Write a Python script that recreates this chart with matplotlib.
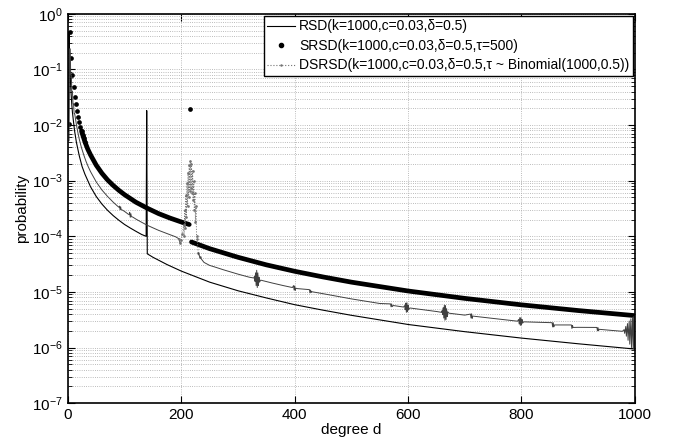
import numpy as np
import matplotlib.pyplot as plt
from matplotlib.lines import Line2D
from matplotlib.ticker import LogLocator, NullFormatter

plt.rcParams['font.family'] = ['Liberation Sans', 'DejaVu Sans']

# RSD(k=1000) - thin line
rsd_deg = [1, 2, 3, 4, 5, 6, 7, 8, 10, 12, 15, 20, 25, 30, 40, 50, 60, 70, 80, 90,
           100, 110, 120, 130, 138, 139, 140, 150, 175, 200, 250, 300, 350, 400,
           450, 500, 600, 700, 800, 900, 1000]
rsd_val = [7.7e-3, 0.47, 0.16, 0.080, 0.048, 0.032, 0.0225, 0.017, 0.0112, 7.6e-3,
           4.9e-3, 2.82e-3, 1.8e-3, 1.31e-3, 7.75e-4, 5.2e-4, 3.8e-4, 2.93e-4,
           2.35e-4, 1.94e-4, 1.63e-4, 1.41e-4, 1.23e-4, 1.08e-4, 1.0e-4, 1.82e-2,
           4.85e-5, 4.2e-5, 3.1e-5, 2.37e-5, 1.5e-5, 1.05e-5, 7.8e-6, 5.9e-6,
           4.7e-6, 3.8e-6, 2.6e-6, 1.93e-6, 1.48e-6, 1.17e-6, 9.4e-7]

# SRSD(tau=500) - big dots, merging into a thick band
srsd_deg = [2, 4, 6, 8, 10, 12, 14, 16, 18, 20, 22, 24, 26, 28, 30, 35, 40, 50, 60,
            70, 80, 90, 100, 120, 140, 160, 180, 200, 214, 216, 218, 250, 300, 350,
            400, 450, 500, 600, 700, 800, 900, 1000]
srsd_val = [0.0105, 0.47, 0.159, 0.080, 0.0485, 0.0326, 0.0235, 0.0178, 0.0140,
            0.0113, 0.0093, 0.0078, 0.0067, 0.0058, 0.0050, 0.0037, 0.0029, 0.0019,
            0.00136, 0.00103, 0.00082, 0.00067, 0.00056, 0.00041, 0.00032, 0.000256,
            0.000213, 0.000181, 0.000163, 0.0194, 7.9e-5, 6.0e-5, 4.2e-5, 3.07e-5,
            2.35e-5, 1.86e-5, 1.50e-5, 1.04e-5, 7.66e-6, 5.86e-6, 4.63e-6, 3.75e-6]

# DSRSD(tau ~ Binomial(1000,0.5)) - small grey dots
dsrsd_deg = [1, 2, 3, 4, 5, 6, 7, 8, 9, 10, 11, 12, 14, 16, 18, 20, 24, 28, 32, 36,
             40, 50, 60, 70, 80, 88, 90, 91, 92, 93, 94, 96, 100, 106, 108, 109, 110,
             111, 112, 114, 120, 130, 140, 150, 160, 170, 180, 190, 196,
             198, 200, 202, 204, 205, 206, 207, 208, 209, 210, 211, 212, 213, 214,
             215, 216, 217, 218, 219, 220, 221, 222, 223, 224, 225, 226, 227, 228,
             230, 233, 240, 250, 260, 275, 300, 320, 328, 329, 330, 331, 332, 333, 334,
             335, 336, 337, 338, 340, 360, 380, 396, 398, 399, 400, 401, 402, 404,
             426, 427, 428, 429, 430, 450, 500, 550, 569, 570, 571, 572, 574, 592,
             594, 595, 596, 597, 598, 599, 600, 601, 603, 650, 659, 660, 661, 662,
             663, 664, 665, 666, 667, 668, 669, 670, 672, 700, 710, 711, 712, 713,
             714, 750, 793, 795, 796, 797, 798, 799, 800, 801, 802, 804, 854, 855,
             856, 857, 858, 888, 889, 890, 891, 900, 933, 934, 935, 936, 937, 960,
             978, 981, 982, 984, 985, 987, 988, 990, 991, 993, 994, 996, 997, 998,
             999, 1000]
dsrsd_val = [0.0052, 0.0052, 0.235, 0.235, 0.079, 0.079, 0.040, 0.040, 0.024, 0.024,
             0.016, 0.016, 0.0118, 0.0089, 0.0070, 0.0056, 0.0039, 0.0029, 0.00222,
             0.00177, 0.00145, 0.00095, 0.00068, 0.00052, 0.00041, 0.000346,
             0.000333, 0.00035, 0.00030, 0.00034, 0.00030, 0.000297, 0.00028,
             0.000252, 0.000245, 0.00027, 0.00022, 0.000255, 0.000225, 0.000223,
             0.000204, 0.000179, 0.000158, 0.000142, 0.000128, 0.000117, 0.000107,
             9.8e-5, 9.0e-5,
             7.5e-5, 8.5e-5, 1.1e-4, 1.6e-4, 1.0e-4, 3.0e-4, 1.4e-4, 5.5e-4, 2.2e-4,
             9.0e-4, 3.5e-4, 1.4e-3, 5.0e-4, 1.9e-3, 6.5e-4, 2.3e-3, 7.5e-4, 2.0e-3,
             6.0e-4, 1.5e-3, 4.5e-4, 1.0e-3, 3.0e-4, 6.0e-4, 1.8e-4, 3.5e-4, 1.0e-4,
             9.0e-5, 5.0e-5, 4.2e-5, 3.4e-5, 3.0e-5, 2.79e-5, 2.49e-5, 2.09e-5, 1.84e-5,
             1.78e-5,
             1.9e-5, 1.55e-5, 2.2e-5, 1.3e-5, 2.45e-5, 1.2e-5, 2.2e-5, 1.3e-5,
             1.85e-5, 1.5e-5, 1.63e-5, 1.45e-5, 1.30e-5, 1.2e-5, 1.3e-5, 1.08e-5,
             1.28e-5, 1.07e-5, 1.17e-5, 1.15e-5, 1.1e-5, 0.96e-5, 1.08e-5, 0.98e-5,
             1.01e-5, 9.3e-6, 7.5e-6, 6.2e-6, 6.1e-6, 5.4e-6, 6.1e-6, 5.45e-6, 5.7e-6,
             5.35e-6, 5.7e-6, 4.8e-6, 6.3e-6, 4.3e-6, 6.4e-6, 4.4e-6, 5.8e-6, 4.8e-6,
             5.15e-6, 4.45e-6, 4.3e-6, 4.6e-6, 3.9e-6, 5.2e-6, 3.4e-6, 5.8e-6, 3.1e-6,
             5.7e-6, 3.2e-6, 5.0e-6, 3.6e-6, 4.4e-6, 4.15e-6, 3.83e-6, 4.0e-6, 3.4e-6,
             4.05e-6, 3.35e-6, 3.68e-6, 3.34e-6, 2.98e-6, 3.2e-6, 2.65e-6, 3.45e-6,
             2.5e-6, 3.45e-6, 2.55e-6, 3.2e-6, 2.75e-6, 2.9e-6, 2.8e-6, 2.35e-6,
             2.8e-6, 2.35e-6, 2.55e-6, 2.55e-6, 2.2e-6, 2.5e-6, 2.3e-6, 2.31e-6,
             2.3e-6, 2.0e-6, 2.28e-6, 2.02e-6, 2.13e-6, 2.03e-6, 1.96e-6, 2.1e-6,
             1.8e-6, 2.4e-6, 1.6e-6, 2.7e-6, 1.35e-6, 3.0e-6, 1.15e-6, 3.3e-6, 1.0e-6,
             3.5e-6, 0.95e-6, 3.6e-6, 0.9e-6, 3.7e-6]

labels = ['RSD(k=1000,c=0.03,δ=0.5)',
          'SRSD(k=1000,c=0.03,δ=0.5,τ=500)',
          'DSRSD(k=1000,c=0.03,δ=0.5,τ ~ Binomial(1000,0.5))']


def main():
    fig = plt.figure(figsize=(6.79, 4.46), dpi=100)
    ax = fig.add_axes([0.100, 0.096, 0.835, 0.873])

    ax.plot(rsd_deg, rsd_val, color='k', lw=0.8)

    sd = np.array(srsd_deg)
    sv = np.array(srsd_val)
    left = (sd >= 24) & (sd <= 214)
    right = sd >= 218
    ax.plot(sd[left], sv[left], color='k', lw=3.4, solid_capstyle='round')
    ax.plot(sd[right], sv[right], color='k', lw=3.4, solid_capstyle='round')
    dots = (sd <= 30) | (sd == 216)
    ax.plot(sd[dots], sv[dots], 'o', color='k', ms=3.4, mew=0, ls='none')

    dd = np.array(dsrsd_deg)
    dv = np.array(dsrsd_val)
    lo = dd <= 198
    mid = (dd >= 196) & (dd <= 233)
    hi = dd >= 230
    ax.plot(dd[lo], dv[lo], color='0.25', lw=0.7)
    ax.plot(dd[mid], dv[mid], color='0.45', lw=0.7, ls=':', marker='.', ms=1.8)
    ax.plot(dd[hi], dv[hi], color='0.25', lw=0.7)

    handles = [Line2D([], [], color='k', lw=0.8),
               Line2D([], [], color='k', marker='.', ls='none', ms=6),
               Line2D([], [], color='0.45', ls=':', lw=0.8, marker='.', ms=1.5)]
    leg = ax.legend(handles, labels, loc='upper right', fontsize=10,
                    fancybox=False, edgecolor='k', framealpha=1, borderpad=0.25,
                    handlelength=2.0, handletextpad=0.3, labelspacing=0.4,
                    borderaxespad=0.15)
    leg.get_frame().set_linewidth(1.0)

    ax.set_yscale('log')
    ax.set_xlim(0, 1000)
    ax.set_ylim(1e-7, 1)
    ax.set_xticks([0, 200, 400, 600, 800, 1000])
    ax.yaxis.set_major_locator(LogLocator(base=10, numticks=10))
    ax.yaxis.set_minor_locator(LogLocator(base=10, subs=np.arange(2, 10), numticks=100))
    ax.yaxis.set_minor_formatter(NullFormatter())
    ax.tick_params(which='both', direction='in', top=True, right=True)
    ax.tick_params(which='major', length=5, width=0.8, labelsize=11)
    ax.tick_params(which='minor', length=3, width=0.6)
    ax.grid(True, which='major', ls=':', color='0.65', lw=0.6)
    ax.grid(True, which='minor', axis='y', ls=':', color='0.65', lw=0.6)
    for s in ax.spines.values():
        s.set_linewidth(1.2)

    ax.set_xlabel('degree d', fontsize=11, labelpad=1)
    ax.set_ylabel('probability', fontsize=11, labelpad=2)

    plt.savefig('out.png', dpi=100)


if __name__ == '__main__':
    main()
